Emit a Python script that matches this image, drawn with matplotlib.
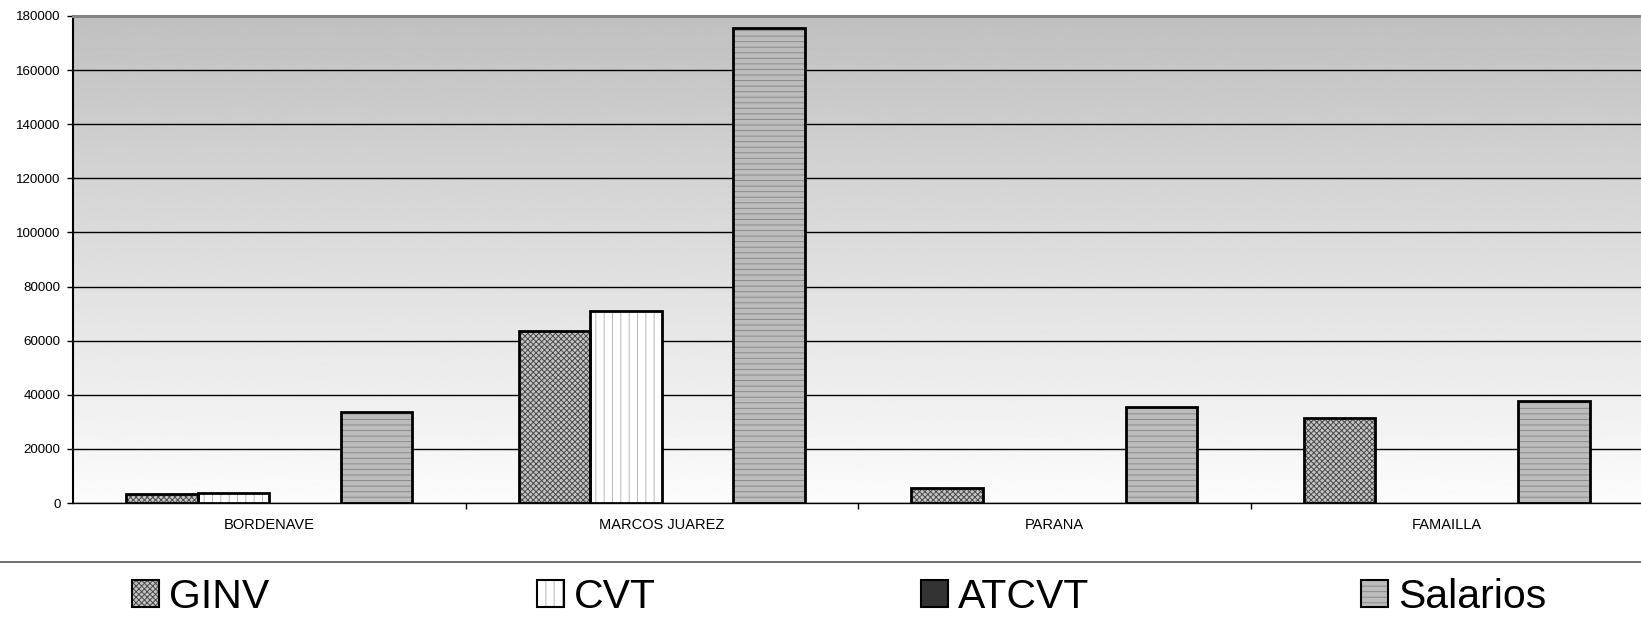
import numpy as np
import matplotlib
matplotlib.use("Agg")
import matplotlib.pyplot as plt
from matplotlib.patches import Rectangle
from matplotlib.lines import Line2D

categories = ["BORDENAVE", "MARCOS JUAREZ", "PARANA", "FAMAILLA"]
series_names = ["GINV", "CVT", "ATCVT", "Salarios"]
ginv = [3300, 63500, 5600, 31500]
cvt = [3600, 71000, 0, 0]
atcvt = [0, 0, 0, 0]
salarios = [33800, 175500, 35300, 37700]
y_ticks = [0, 20000, 40000, 60000, 80000, 100000, 120000, 140000, 160000, 180000]

plt.rcParams['font.family'] = ['Liberation Sans', 'DejaVu Sans']
plt.rcParams['hatch.linewidth'] = 0.7

W, H = 1641, 622
fig = plt.figure(figsize=(W / 100, H / 100), dpi=100)
ax = fig.add_axes([73 / W, (H - 503) / H, 1570 / W, 487 / H])

# gradient background
grad = np.linspace(0, 1, 256).reshape(-1, 1)
ax.imshow(grad, extent=[0, 1, 0, 1], transform=ax.transAxes, aspect='auto',
          cmap='gray', vmin=-3.2, vmax=1.05, origin='upper', zorder=0)

styles = [
    dict(face='#c4c4c4', hatch='xxxxxx', hcol='#4a4a4a'),
    dict(face='#ffffff', hatch='||', hcol='#b8b8b8'),
    dict(face='#333333', hatch='', hcol='#333333'),
    dict(face='#bcbcbc', hatch='---', hcol='#8a8a8a'),
]
data = [ginv, cvt, atcvt, salarios]
x = np.arange(len(categories))
bw = 0.182
offsets = (np.arange(4) - 1.5) * bw
for vals, st, off in zip(data, styles, offsets):
    v = np.array(vals, dtype=float)
    v[v == 0] = np.nan
    ax.bar(x + off, v, width=bw, color=st['face'], hatch=st['hatch'],
           edgecolor=st['hcol'], linewidth=0, zorder=3)
    ax.bar(x + off, v, width=bw, fill=False, edgecolor='black',
           linewidth=2.0, zorder=4)

ax.set_xlim(-0.5, 3.5)
ax.set_ylim(0, 180000)
ax.set_yticks(y_ticks)
ax.set_yticklabels([str(t) for t in y_ticks], fontsize=9.6)
ax.yaxis.grid(True, color='black', linewidth=1.0, zorder=1)
ax.set_axisbelow(True)
ax.set_xticks(x)
ax.set_xticklabels(categories, fontsize=10.5)
ax.tick_params(axis='x', which='major', length=0, pad=11)
ax.set_xticks([0.5, 1.5, 2.5], minor=True)
ax.tick_params(axis='x', which='minor', length=4, width=1, direction='out')
ax.tick_params(axis='y', length=4, width=1, direction='out', pad=5)

ax.spines['right'].set_visible(False)
ax.spines['left'].set_color('black')
ax.spines['left'].set_linewidth(1.5)
ax.spines['top'].set_color('#858585')
ax.spines['top'].set_linewidth(2.2)
ax.spines['bottom'].set_color('black')
ax.spines['bottom'].set_linewidth(1.0)

# separator line
fig.add_artist(Line2D([0, 1], [(H - 562) / H] * 2, transform=fig.transFigure,
                      color='#555555', linewidth=1.2))

# legend
marker_x = [132, 537, 921, 1361]
for name, st, mx in zip(series_names, styles, marker_x):
    r = Rectangle((mx / W, (H - 607) / H), 27 / W, 27 / H, transform=fig.transFigure,
                  facecolor=st['face'], hatch=st['hatch'], edgecolor=st['hcol'],
                  linewidth=0)
    fig.add_artist(r)
    r2 = Rectangle((mx / W, (H - 607) / H), 27 / W, 27 / H, transform=fig.transFigure,
                   fill=False, edgecolor='black', linewidth=1.5)
    fig.add_artist(r2)
    fig.text((mx + 37) / W, (H - 608) / H, name, fontsize=29.5, va='baseline', ha='left')

fig.savefig('out.png', dpi=100)
